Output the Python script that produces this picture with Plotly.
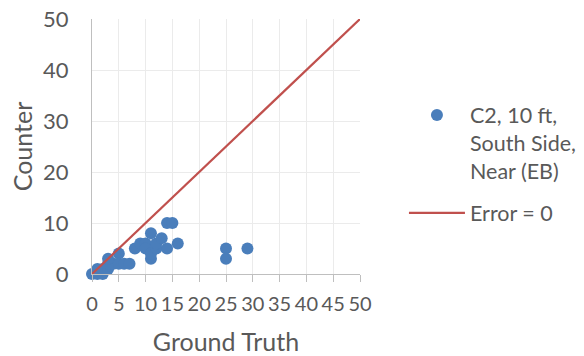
import plotly.graph_objects as go

# Ground truth vs. counter readings
ground_truth = [0, 1, 1, 2, 2, 3, 3, 4, 3, 5, 5, 6, 7, 8, 9, 10, 10, 11, 11, 11, 12, 12, 13, 14, 14, 15, 16, 25, 25, 29]
counter =      [0, 0, 1, 0, 1, 1, 2, 2, 3, 4, 2, 2, 2, 5, 6, 6, 5, 8, 3, 4, 5, 6, 7, 5, 10, 10, 6, 5, 3, 5]

# Reference line where error is zero
ref_x = [0, 50]
ref_y = [0, 50]

x_ticks = list(range(0, 51, 5))
y_ticks = list(range(0, 51, 10))

FONT = "Lato"
TXT = "#595959"

fig = go.Figure()
fig.add_trace(go.Scatter(
    x=ground_truth, y=counter, mode="markers",
    name="C2, 10 ft,<br>South Side,<br>Near (EB)",
    marker=dict(color="#4A7EBB", size=12),
    cliponaxis=False, legendgroup="a",
))
fig.add_trace(go.Scatter(
    x=ref_x, y=ref_y, mode="lines", name="Error = 0",
    line=dict(color="#C0504D", width=2.2),
    cliponaxis=False, legendgroup="b",
))

fig.update_layout(
    width=584, height=356,
    margin=dict(l=92, r=224, t=19, b=82, autoexpand=False),
    paper_bgcolor="white", plot_bgcolor="white",
    font=dict(family=FONT, color=TXT, size=21),
    legend=dict(x=1.164, y=0.704, xanchor="left", yanchor="top",
                font=dict(size=21.5, color=TXT), bgcolor="rgba(0,0,0,0)",
                itemwidth=56, tracegroupgap=11, valign="top"),
    showlegend=True,
)
fig.update_xaxes(
    range=[0, 50], tickvals=x_ticks, ticktext=[str(v) for v in x_ticks],
    tickangle=0, automargin=False, ticklabelstandoff=5,
    showgrid=True, gridcolor="#EBEBEB", gridwidth=1.3,
    showline=True, linecolor="#BFBFBF", linewidth=1.3,
    ticks="outside", ticklen=7, tickcolor="#BFBFBF",
    tickfont=dict(size=20, family=FONT, color=TXT),
    title=dict(text="Ground Truth", font=dict(size=25, family=FONT, color=TXT), standoff=22),
    zeroline=False,
)
fig.update_yaxes(
    range=[0, 50], tickvals=y_ticks, ticktext=[str(v) for v in y_ticks],
    automargin=False,
    showgrid=True, gridcolor="#EBEBEB", gridwidth=1.3,
    showline=True, linecolor="#BFBFBF", linewidth=1.3,
    ticks="", ticklabelstandoff=18,
    tickfont=dict(size=22, family=FONT, color=TXT),
    title=dict(text="Counter", font=dict(size=25, family=FONT, color=TXT), standoff=3),
    zeroline=False,
)

fig.write_html("out.html")
